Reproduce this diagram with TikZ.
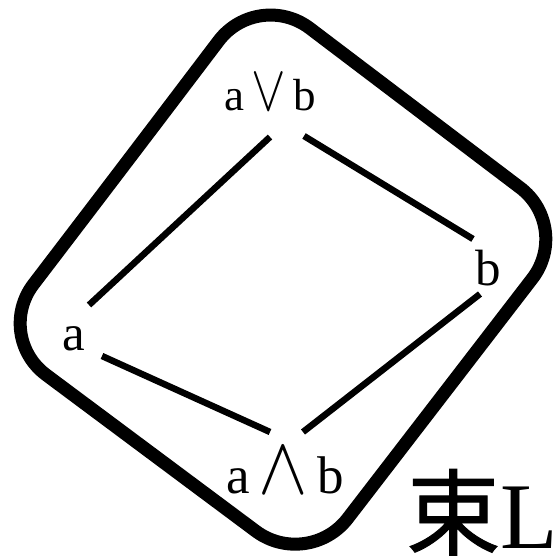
\documentclass[tikz,border=0pt]{standalone}
\usepackage{fix-cm}
\usepackage{fontspec}
\usepackage{graphicx}
\setmainfont{Liberation Serif}
\newfontfamily\cjk[FakeBold=1]{Noto Sans CJK JP}
\newcommand{\joinop}{\,\scalebox{1.15}[1.45]{$\vee$}\,}
\newcommand{\meetop}{\,\scalebox{1.4}[1.55]{$\wedge$}\,}

\begin{document}
\begin{tikzpicture}[x=1pt, y=-1pt,
  every node/.style={inner sep=0pt, anchor=base},
  outline/.style={line width=13pt, rounded corners=65pt, line join=round},
  link/.style={line width=6.5pt}]
  \useasboundingbox (0,0) rectangle (560,559);

  \draw[outline] (126,163) -- (258,-11) -- (572,227) -- (308,570) -- (-6,336) -- cycle;

  \node[font=\fontsize{45}{45}\selectfont] (join) at (270,111) {a\joinop b};
  \node[font=\fontsize{51}{51}\selectfont] (b) at (488,285) {b};
  \node[font=\fontsize{51}{51}\selectfont] (a) at (73.5,350) {a};
  \node[font=\fontsize{53}{53}\selectfont] (meet) at (285,493) {a\meetop b};
  \node[font=\fontsize{94}{94}\selectfont] (name) at (482,548) {{\cjk 束}L};

  \draw[link] ([shift={(0,26)}]join.base) -- ([shift={(15.5,-45)}]a.base);
  \draw[link] ([shift={(34,25)}]join.base) -- ([shift={(-15,-46)}]b.base);
  \draw[link] ([shift={(28.5,6)}]a.base) -- ([shift={(-15,-61)}]meet.base);
  \draw[link] ([shift={(-8,9)}]b.base) -- ([shift={(18,-61)}]meet.base);
\end{tikzpicture}
\end{document}
